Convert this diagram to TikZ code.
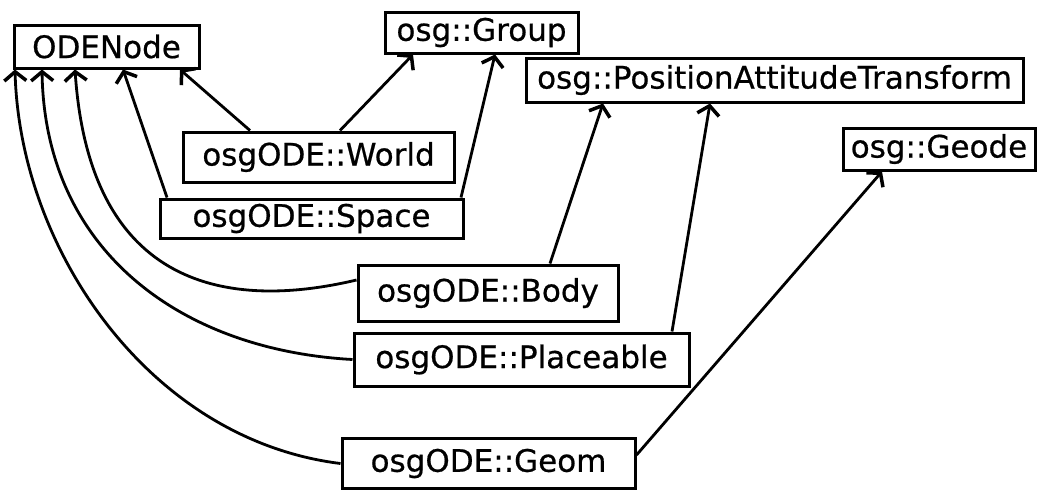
\documentclass[tikz,border=0pt]{standalone}
\usepackage{fontspec}
\setmainfont[FakeBold=0.6]{DejaVu Sans}
\usepackage{tikz}
\usetikzlibrary{arrows.meta, calc}

\begin{document}
\begin{tikzpicture}[
    x=1pt, y=-1pt,
    font=\fontsize{31}{36}\selectfont,
    box/.style 2 args={
      draw,
      line width=3pt,
      inner sep=0pt,
      minimum width=#1,
      minimum height=#2
    },
    arrow/.style={-{Straight Barb[length=9pt,width=22pt,line width=3.5pt]},line width=2.8pt}
  ]
  \useasboundingbox (0,0) rectangle (1043,491);

  % --- base classes ---
  \node[box={185}{43}] (odenode) at (106.5,46.5) {ODENode};
  \node[box={193}{41}] (group) at (481.5,32.5) {osg::Group};
  \node[box={497}{44}] (pat) at (774.5,80) {osg::PositionAttitudeTransform};
  \node[box={192}{42}] (geode) at (939,149) {osg::Geode};

  % --- osgODE classes ---
  \node[box={271}{50}] (world) at (318.5,157) {osgODE::World};
  \node[box={303}{39}] (space) at (311.5,218.5) {osgODE::Space};
  \node[box={260}{56}] (body) at (488,293) {osgODE::Body};
  \node[box={335}{53}] (placeable) at (521.5,359.5) {osgODE::Placeable};
  \node[box={293}{50}] (geom) at (488.5,463.5) {osgODE::Geom};

  % --- arrows ---
  \draw[arrow] ($(world.north)+(-68.5,0)$) -- ($(odenode.south)+(73.5,0)$);
  \draw[arrow] ($(world.north)+(21.5,0)$) -- ($(group.south)+(-68.5,0)$);

  \draw[arrow] ($(space.north)+(-144.5,0)$) -- ($(odenode.south)+(16.5,0)$);
  \draw[arrow] ($(space.north)+(149.5,0)$) -- ($(group.south)+(13.5,0)$);

  \draw[arrow] ($(body.west)+(0,-13)$) .. controls (230,310) and (90,290) .. ($(odenode.south)+(-31.5,0)$);
  \draw[arrow] ($(body.north)+(62,0)$) -- ($(pat.south)+(-171.5,0)$);

  \draw[arrow] (placeable.west) .. controls (180,350) and (45,250) .. ($(odenode.south)+(-64.5,0)$);
  \draw[arrow] ($(placeable.north)+(150.5,0)$) -- ($(pat.south)+(-64.5,0)$);

  \draw[arrow] (geom.west) .. controls (150,440) and (20,250) .. ($(odenode.south)+(-91.5,0)$);
  \draw[arrow] ($(geom.east)+(0,-8.5)$) -- ($(geode.south)+(-57,0)$);

\end{tikzpicture}
\end{document}
